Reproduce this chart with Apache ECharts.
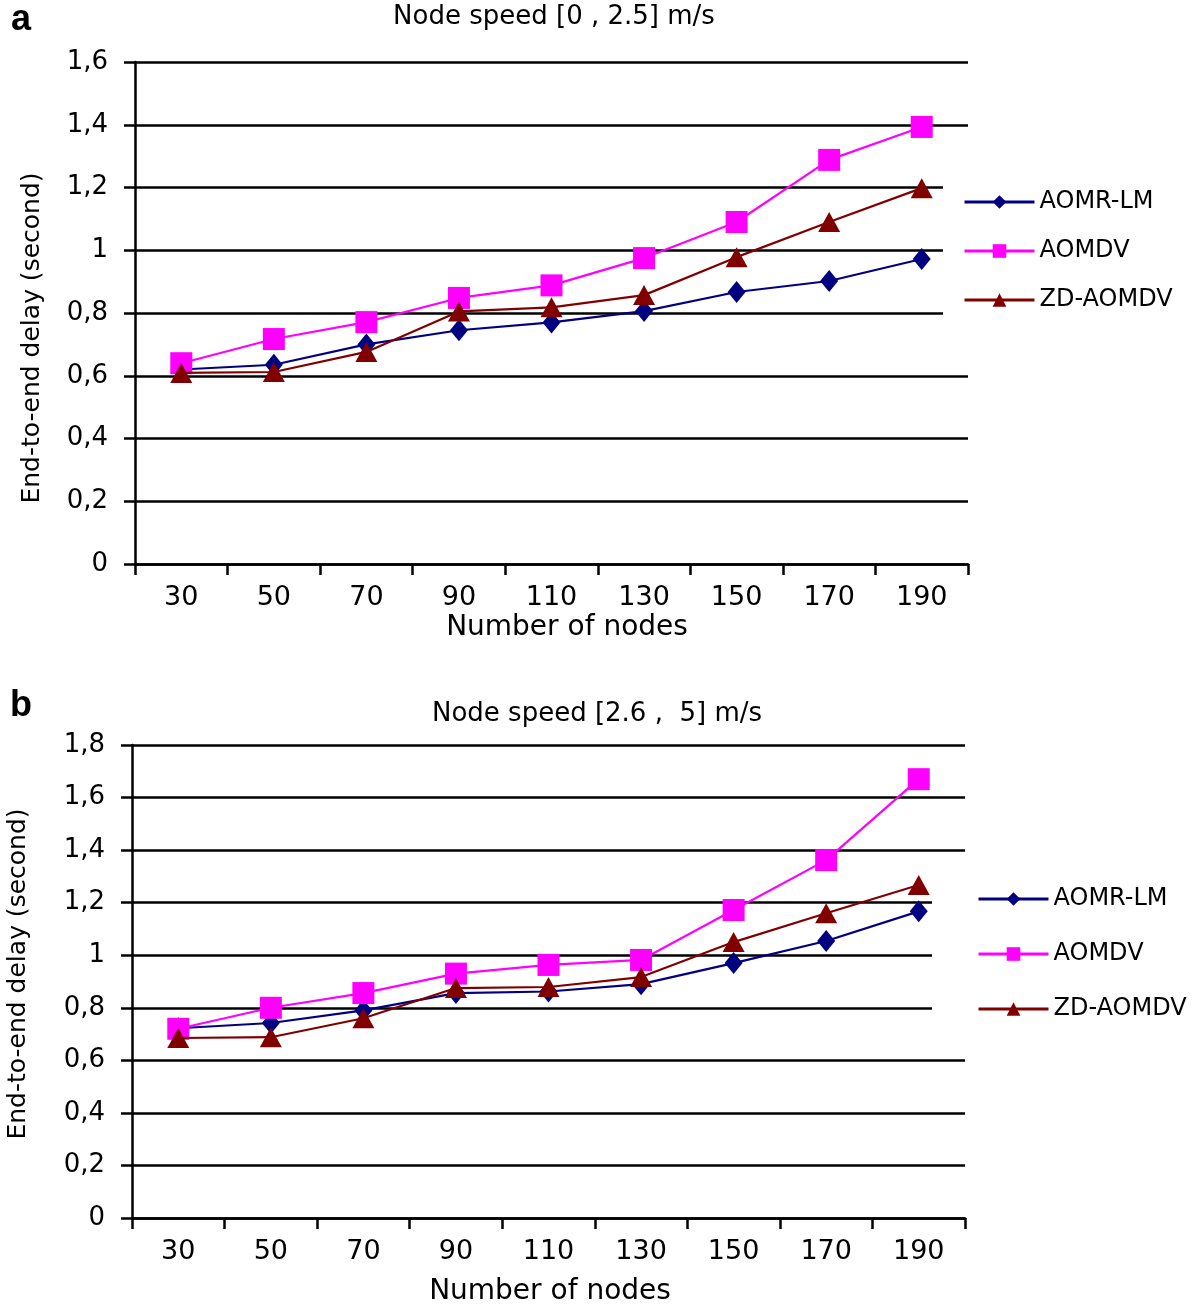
<!DOCTYPE html>
<html>
<head>
<meta charset="utf-8">
<script src="https://cdn.jsdelivr.net/npm/echarts@6/dist/echarts.min.js"></script>
<style>html,body{margin:0;padding:0;background:#fff}#c{width:1200px;height:1306px}</style>
</head>
<body>
<div id="c"></div>
<script>
const categories = ['30','50','70','90','110','130','150','170','190'];
const seriesNames = ['AOMR-LM','AOMDV','ZD-AOMDV'];
// Panel a: Node speed [0 , 2.5] m/s
const aAomrLm  = [0.62, 0.635, 0.70, 0.745, 0.77, 0.806, 0.867, 0.902, 0.972];
const aAomdv   = [0.64, 0.717, 0.771, 0.848, 0.888, 0.975, 1.09, 1.288, 1.393];
const aZdAomdv = [0.609, 0.612, 0.676, 0.805, 0.818, 0.857, 0.978, 1.09, 1.198];
// Panel b: Node speed [2.6 , 5] m/s
const bAomrLm  = [0.722, 0.742, 0.79, 0.856, 0.862, 0.89, 0.97, 1.054, 1.167];
const bAomdv   = [0.72, 0.80, 0.856, 0.93, 0.963, 0.982, 1.172, 1.362, 1.67];
const bZdAomdv = [0.685, 0.688, 0.76, 0.875, 0.879, 0.917, 1.05, 1.16, 1.267];
const yTicksA = {min: 0, max: 1.6, interval: 0.2};
const yTicksB = {min: 0, max: 1.8, interval: 0.2};

const colors = ['#000080', '#FF00FF', '#800000'];
const symbols = ['diamond', 'rect', 'triangle'];
const symbolSizes = [[18, 22], 22, [22, 20]];
const FONT = 'DejaVu Sans';

function fmt(v) { return String(Math.round(v * 10) / 10).replace('.', ','); }

function makeX(gridIndex) {
  return {
    type: 'category', gridIndex: gridIndex, data: categories, boundaryGap: true,
    axisLine: {lineStyle: {color: '#000', width: 2.5}},
    axisTick: {show: true, inside: false, length: 11, alignWithLabel: false, lineStyle: {color: '#000', width: 2.5}},
    axisLabel: {color: '#000', fontFamily: FONT, fontSize: 27, margin: 20},
    splitLine: {show: false}
  };
}
function makeY(gridIndex, t) {
  return {
    type: 'value', gridIndex: gridIndex, min: t.min, max: t.max, interval: t.interval,
    axisLine: {show: true, lineStyle: {color: '#000', width: 2.5}},
    axisTick: {show: true, inside: false, length: 11, lineStyle: {color: '#000', width: 2.5}},
    axisLabel: {color: '#000', fontFamily: FONT, fontSize: 26, margin: 27, formatter: fmt},
    splitLine: {show: true, lineStyle: {color: '#000', width: 2.5}}
  };
}
function makeSeries(idx, vals) {
  return vals.map((d, i) => ({
    name: seriesNames[i], type: 'line', xAxisIndex: idx, yAxisIndex: idx, data: d,
    symbol: symbols[i], symbolSize: symbolSizes[i], showAllSymbol: true,
    lineStyle: {color: colors[i], width: 2.2},
    itemStyle: {color: colors[i]},
    z: 3 + i, animation: false
  }));
}
function makeLegend(left, top, gap, pl) {
  return {
    orient: 'vertical', left: left, top: top, itemGap: gap, itemWidth: 70, itemHeight: 17,
    padding: [20, 10, 20, pl], backgroundColor: '#fff',
    lineStyle: {width: 3},
    textStyle: {color: '#000', fontFamily: FONT, fontSize: 24, lineHeight: 24},
    data: seriesNames.slice()
  };
}
function txt(x, y, text, size, opts) {
  return Object.assign({
    type: 'text', x: x, y: y,
    style: {text: text, fontFamily: FONT, fontSize: size, fill: '#000', align: 'center', verticalAlign: 'middle'}
  }, opts || {});
}

const chart = echarts.init(document.getElementById('c'), null, {renderer: 'canvas'});
chart.setOption({
  animation: false,
  backgroundColor: '#fff',
  grid: [
    {left: 135, right: 232, top: 62, bottom: 742},
    {left: 132, right: 235, top: 745, bottom: 88}
  ],
  xAxis: [makeX(0), makeX(1)],
  yAxis: [makeY(0, yTicksA), makeY(1, yTicksB)],
  legend: [
    makeLegend(943, 170, 25, 20),
    makeLegend(932, 867, 31, 45)
  ],
  series: makeSeries(0, [aAomrLm, aAomdv, aZdAomdv]).concat(makeSeries(1, [bAomrLm, bAomdv, bZdAomdv])),
  graphic: [
    txt(21, 20, 'a', 36, {style: {text: 'a', fontFamily: 'Liberation Sans', fontSize: 36, fontWeight: 'bold', fill: '#000', align: 'center', verticalAlign: 'middle'}}),
    txt(21, 706, 'b', 36, {style: {text: 'b', fontFamily: 'Liberation Sans', fontSize: 36, fontWeight: 'bold', fill: '#000', align: 'center', verticalAlign: 'middle'}}),
    txt(554, 17, 'Node speed [0 , 2.5] m/s', 26),
    txt(597, 714, 'Node speed [2.6 ,  5] m/s', 26),
    txt(567, 628, 'Number of nodes', 28),
    txt(550, 1292, 'Number of nodes', 28),
    txt(32, 338, 'End-to-end delay (second)', 25, {rotation: Math.PI / 2}),
    txt(18, 974, 'End-to-end delay (second)', 25, {rotation: Math.PI / 2})
  ]
});
</script>
</body>
</html>
